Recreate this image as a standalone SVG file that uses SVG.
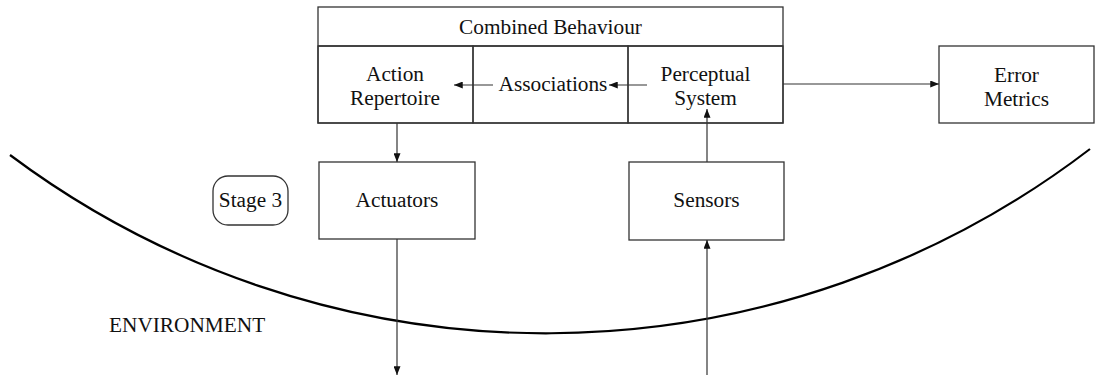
<svg xmlns="http://www.w3.org/2000/svg" width="1095" height="378" viewBox="0 0 1095 378">
<defs>
<style>
.box{fill:#fff;stroke:#333;stroke-width:1.3}
.cell{fill:none;stroke:#333;stroke-width:1.3}
.t{font-family:"Liberation Serif","Times New Roman",serif;font-size:21.3px;fill:#111;text-anchor:middle}
.c{fill:none;stroke:#333;stroke-width:1.2;marker-end:url(#ah)}
.env{fill:none;stroke:#000;stroke-width:2.2}
</style>
<marker id="ah" viewBox="0 0 10 8" refX="10" refY="4" markerUnits="userSpaceOnUse" markerWidth="9" markerHeight="7" orient="auto">
<path d="M0,0 L10,4 L0,8 z" fill="#111"/>
</marker>
</defs>
<rect width="1095" height="378" fill="#fff"/>
<path class="env" d="M10,155 A895,895 0 0,0 1090,149"/>
<g id="combined-behaviour">
<rect class="box" x="318" y="7" width="465" height="116"/>
<line class="cell" x1="318" y1="46" x2="783" y2="46"/>
<text class="t" x="550.5" y="34">Combined Behaviour</text>
</g>
<g id="action-repertoire">
<rect class="cell" x="318" y="46" width="155" height="77"/>
<text class="t" x="395" y="81">Action</text>
<text class="t" x="395" y="105">Repertoire</text>
</g>
<g id="associations">
<rect class="cell" x="473" y="46" width="155" height="77"/>
<text class="t" x="553" y="91">Associations</text>
</g>
<g id="perceptual-system">
<rect class="cell" x="628" y="46" width="155" height="77"/>
<text class="t" x="705.5" y="81">Perceptual</text>
<text class="t" x="705.5" y="105">System</text>
</g>
<g id="error-metrics">
<rect class="box" x="939" y="46" width="155" height="77"/>
<text class="t" x="1016.5" y="82">Error</text>
<text class="t" x="1016.5" y="106">Metrics</text>
</g>
<g id="stage3">
<rect class="box" x="213" y="176" width="75" height="49" rx="15" ry="15"/>
<text class="t" x="250.5" y="207">Stage 3</text>
</g>
<g id="actuators">
<rect class="box" x="319" y="162" width="156" height="77"/>
<text class="t" x="397" y="207">Actuators</text>
</g>
<g id="sensors">
<rect class="box" x="629" y="162" width="155" height="78"/>
<text class="t" x="706.5" y="207">Sensors</text>
</g>
<g id="environment">
<text class="t" x="109" y="332" style="text-anchor:start">ENVIRONMENT</text>
</g>
<g id="connectors">
<line class="c" x1="783" y1="84" x2="939" y2="84"/>
<line class="c" x1="647" y1="85" x2="609" y2="85"/>
<line class="c" x1="493" y1="85" x2="454" y2="85"/>
<line class="c" x1="397" y1="123" x2="397" y2="162"/>
<line class="c" x1="397" y1="239" x2="397" y2="375"/>
<line class="c" x1="707" y1="375" x2="707" y2="240"/>
<line class="c" x1="707" y1="162" x2="707" y2="109"/>
</g>
</svg>
